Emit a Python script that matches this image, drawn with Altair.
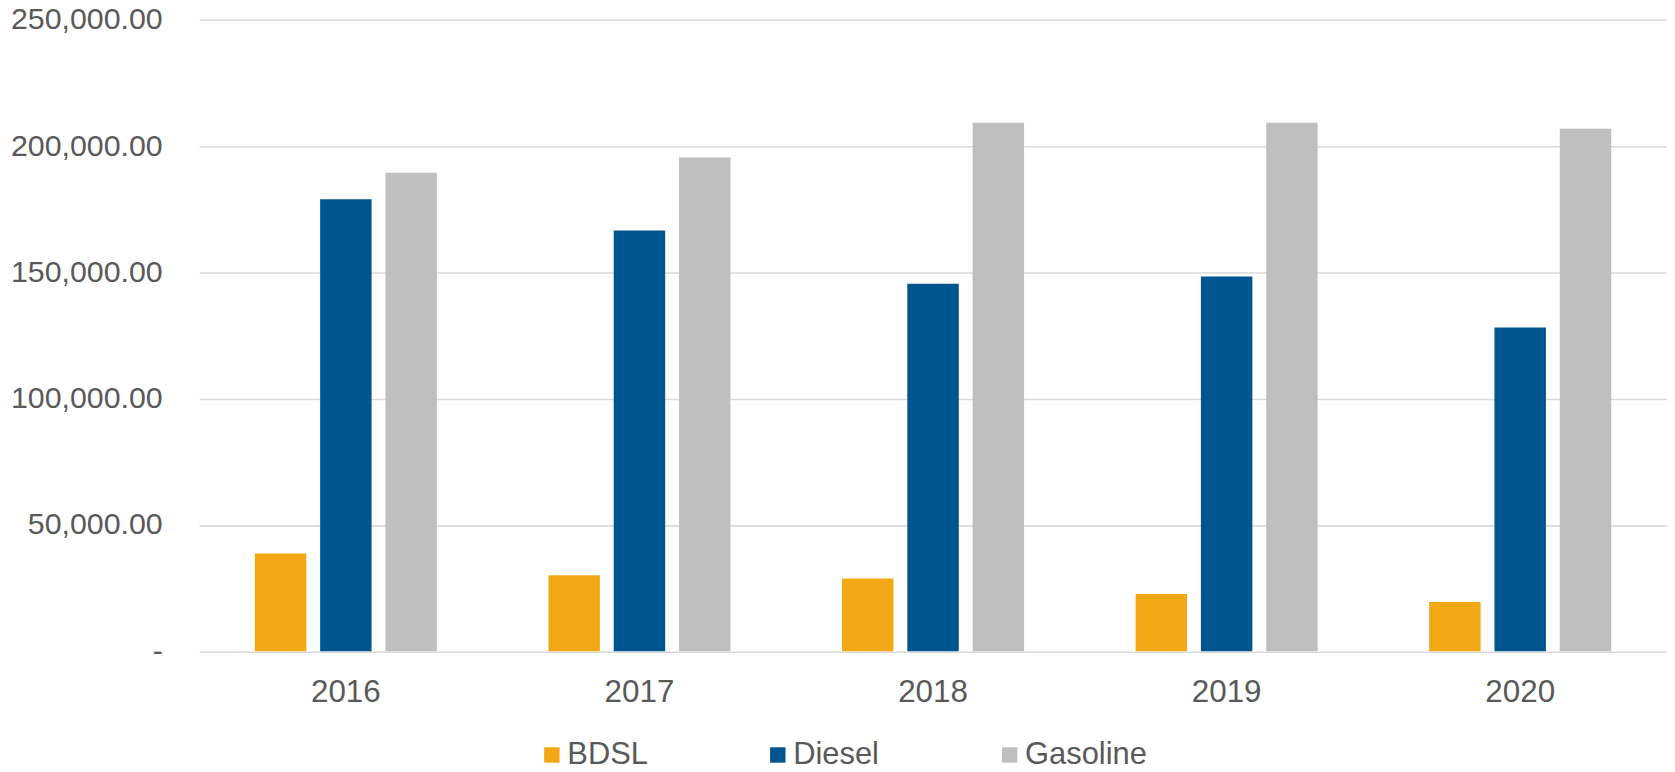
import altair as alt
import pandas as pd

years = ["2016", "2017", "2018", "2019", "2020"]
series = ["BDSL", "Diesel", "Gasoline"]
bdsl = [38700, 30050, 28750, 22650, 19450]
diesel = [178900, 166550, 145500, 148400, 128200]
gasoline = [189400, 195450, 209200, 209200, 206900]
colors = ["#F2A815", "#00558F", "#BFBFBF"]
y_ticks = [0, 50000, 100000, 150000, 200000, 250000]

rows = []
for name, vals in zip(series, [bdsl, diesel, gasoline]):
    for yr, v in zip(years, vals):
        rows.append({"Year": yr, "Fuel": name, "Value": v})
df = pd.DataFrame(rows)

FONT = "Liberation Sans"
TXT = "#595959"

chart = alt.Chart(df).mark_bar().encode(
    x=alt.X("Year:N", sort=years,
            scale=alt.Scale(paddingInner=0.38, paddingOuter=0.19),
            axis=alt.Axis(title=None, labelAngle=0, domain=False, ticks=False, tickSize=0,
                          labelPadding=26, labelFontSize=31.5, labelFont=FONT, labelColor=TXT)),
    xOffset=alt.XOffset("Fuel:N", sort=series,
                        scale=alt.Scale(paddingInner=0.212, paddingOuter=0)),
    y=alt.Y("Value:Q", scale=alt.Scale(domain=[0, 250000], nice=False),
            axis=alt.Axis(title=None, values=y_ticks, domain=False, ticks=False, tickSize=0,
                          labelPadding=37, labelFontSize=30.5, labelFont=FONT, labelColor=TXT,
                          gridColor="#D9D9D9", gridWidth=1.6,
                          labelExpr="datum.value == 0 ? '-\u00a0\u00a0' : format(datum.value, ',.2f')")),
    color=alt.Color("Fuel:N", sort=series,
                    scale=alt.Scale(domain=series, range=colors),
                    legend=alt.Legend(title=None, orient="none", legendX=339, legendY=723,
                                      direction="horizontal", symbolType="square",
                                      symbolSize=240, symbolStrokeWidth=0,
                                      labelFontSize=31, labelFont=FONT, labelColor=TXT,
                                      labelOffset=0, columnPadding=115)),
).properties(
    width=1475, height=634.5,
    autosize=alt.AutoSizeParams(type="none"),
    padding={"left": 192, "top": 10, "right": 0, "bottom": 119.5},
).configure(background="white").configure_view(strokeWidth=0, stroke="transparent")

chart.save("out.html", embed_options={"renderer": "svg", "actions": False})
